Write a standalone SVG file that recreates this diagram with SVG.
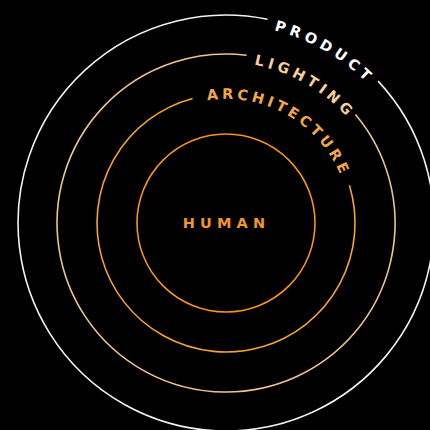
<svg xmlns="http://www.w3.org/2000/svg" width="430" height="430" viewBox="0 0 430 430">
<style>
.ring{fill:none;stroke-width:1.6}
.lbl{font-family:"DejaVu Sans","Liberation Sans",sans-serif;font-weight:700;font-size:14.5px}
</style>
<defs>
<path id="pProduct" d="M 48.5 124.6 A 203 203 0 0 1 403.5 321.4"/>
<path id="pLighting" d="M 82.6 143.5 A 164 164 0 0 1 369.4 302.5"/>
<path id="pArch" d="M 117.5 162.9 A 124 124 0 0 1 334.5 283.1"/>
</defs>
<rect width="430" height="430" fill="#000"/>
<g id="product">
<path class="ring" stroke="#F2F2F2" d="M 378.1 81.1 A 208 208 0 1 1 267.5 19.2"/>
<text class="lbl" fill="#FFFFFF" letter-spacing="4.6" text-anchor="middle"><textPath href="#pProduct" startOffset="50.5%">PRODUCT</textPath></text>
</g>
<g id="lighting">
<path class="ring" stroke="#EDC48F" d="M 355.5 114.4 A 169 169 0 1 1 246.6 55.3"/>
<text class="lbl" fill="#F6CF9A" letter-spacing="4.2" text-anchor="middle"><textPath href="#pLighting" startOffset="50.5%">LIGHTING</textPath></text>
</g>
<g id="architecture">
<path class="ring" stroke="#F3A239" d="M 349.4 185.3 A 129 129 0 1 1 192.6 98.4"/>
<text class="lbl" fill="#F2A64A" letter-spacing="3.6" text-anchor="middle"><textPath href="#pArch" startOffset="50.5%">ARCHITECTURE</textPath></text>
</g>
<g id="human">
<circle class="ring" stroke="#F7941D" cx="226" cy="223" r="89"/>
<text class="lbl" fill="#F0962A" x="226.5" y="228.3" letter-spacing="5.2" text-anchor="middle">HUMAN</text>
</g>
</svg>
